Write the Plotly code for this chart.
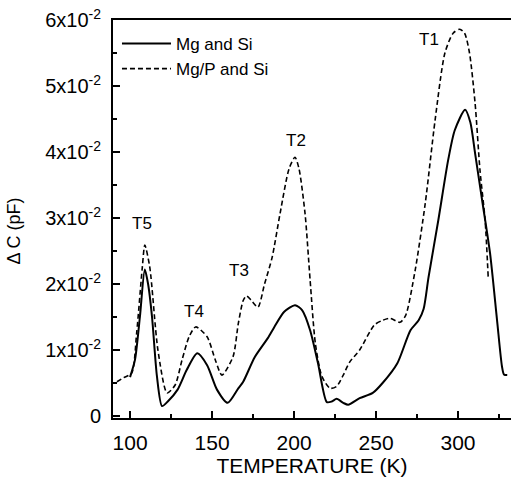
import plotly.graph_objects as go

# Temperature (K) and ΔC in units of 1e-2 pF
temp_mg_si = [100, 103, 106, 109, 111, 113.4, 116.4, 119.5, 123, 129, 134.6, 141, 147, 153, 159.5,
              166, 169, 176, 184, 188, 194, 200.6, 205, 209.8, 214.6, 220, 223, 226, 230, 233,
              240, 248, 254, 263, 271, 276, 279, 282, 288, 294, 298, 304.3, 307.5, 310.4, 315,
              319.5, 323.8, 326.8, 328, 330]
dc_mg_si = [0.59, 0.85, 1.5, 2.22, 2.0, 1.5, 0.6, 0.15, 0.22, 0.4, 0.7, 0.95, 0.77, 0.4, 0.2,
            0.42, 0.52, 0.89, 1.18, 1.35, 1.58, 1.68, 1.6, 1.3, 0.8, 0.21, 0.22, 0.26, 0.2, 0.17,
            0.27, 0.35, 0.5, 0.8, 1.3, 1.45, 1.62, 2.1, 2.97, 3.88, 4.33, 4.64, 4.45, 3.98, 3.22,
            2.47, 1.45, 0.75, 0.63, 0.62]

temp_mgp_si = [92, 96, 101, 104, 107.5, 109, 112, 117, 122.6, 127.5, 131.7, 136, 140, 147, 152,
               156, 162.8, 166, 169, 171, 174, 178, 182, 186.6, 191.5, 197, 200.6, 203, 206.7,
               209.8, 213, 217, 222, 226, 230, 234, 240, 249, 254, 258.5, 264.6, 268, 273.8, 280,
               286, 292, 297, 301, 304, 307, 310.4, 313.4, 316.5, 318.4]
dc_mgp_si = [0.52, 0.58, 0.65, 1.25, 2.26, 2.59, 2.26, 1.0, 0.35, 0.47, 0.85, 1.2, 1.35, 1.2, 0.85,
             0.62, 0.9, 1.4, 1.75, 1.82, 1.75, 1.65, 2.0, 2.4, 3.07, 3.75, 3.92, 3.75, 3.07,
             2.06, 1.1, 0.6, 0.42, 0.45, 0.62, 0.82, 1.0, 1.38, 1.45, 1.48, 1.42, 1.52, 2.2, 3.22,
             4.48, 5.5, 5.8, 5.86, 5.8, 5.5, 4.74, 3.72, 2.97, 2.1]

peak_labels = ["T5", "T4", "T3", "T2", "T1"]
peak_label_t = [107.3, 139, 166.5, 201.2, 282.3]
peak_label_dc = [2.92, 1.59, 2.21, 4.17, 5.70]

x_ticks = [100, 150, 200, 250, 300]
y_ticks = [0, 1, 2, 3, 4, 5, 6]
y_ticktext = ["0"] + [f"{v}x10<sup>-2</sup>" for v in y_ticks[1:]]

SCALE = 1e-2
FONT = "Liberation Sans, Arial, sans-serif"

fig = go.Figure()
fig.add_trace(go.Scatter(x=temp_mg_si, y=[v * SCALE for v in dc_mg_si], mode="lines",
                         name="Mg and Si",
                         line=dict(color="black", width=2, shape="spline", smoothing=0.7)))
fig.add_trace(go.Scatter(x=temp_mgp_si, y=[v * SCALE for v in dc_mgp_si], mode="lines",
                         name="Mg/P and Si",
                         line=dict(color="black", width=1.6, dash="5px,3px",
                                   shape="spline", smoothing=0.7)))

for lab, t, d in zip(peak_labels, peak_label_t, peak_label_dc):
    fig.add_annotation(x=t, y=d * SCALE, text=lab, showarrow=False,
                       font=dict(size=17, color="black", family=FONT),
                       xanchor="center", yanchor="middle")

fig.add_annotation(xref="paper", yref="paper", x=-0.25, y=0.47, text="Δ C (pF)",
                   textangle=-90, showarrow=False, xanchor="center", yanchor="middle",
                   font=dict(size=18, color="black", family=FONT))

fig.update_layout(
    width=511, height=480,
    margin=dict(l=113, r=0, t=20, b=62),
    paper_bgcolor="white", plot_bgcolor="white",
    font=dict(family=FONT, color="black"),
    showlegend=True,
    legend=dict(x=0.01, y=0.985, xanchor="left", yanchor="top",
                bgcolor="rgba(0,0,0,0)", font=dict(size=17, family=FONT),
                itemwidth=49, tracegroupgap=0),
    xaxis=dict(range=[89.6, 332.3], tickvals=x_ticks, ticks="inside", ticklen=7,
               tickwidth=1.5, tickcolor="black",
               minor=dict(dtick=25, tick0=100, ticks="inside", ticklen=4, tickcolor="black"),
               showline=True, linewidth=2, linecolor="black", mirror=True,
               showgrid=False, zeroline=False,
               tickfont=dict(size=21, family=FONT), ticklabelstandoff=5,
               title=dict(text="TEMPERATURE (K)", font=dict(size=21, family=FONT), standoff=4)),
    yaxis=dict(range=[-0.0003, 0.06], tickvals=[v * SCALE for v in y_ticks], ticktext=y_ticktext,
               ticks="inside", ticklen=7, tickwidth=1.5, tickcolor="black",
               minor=dict(dtick=0.005, tick0=0, ticks="inside", ticklen=4, tickcolor="black"),
               showline=True, linewidth=2, linecolor="black", mirror=False,
               showgrid=False, zeroline=False,
               tickfont=dict(size=20, family=FONT), ticklabelstandoff=6),
)

fig.write_html("out.html")
